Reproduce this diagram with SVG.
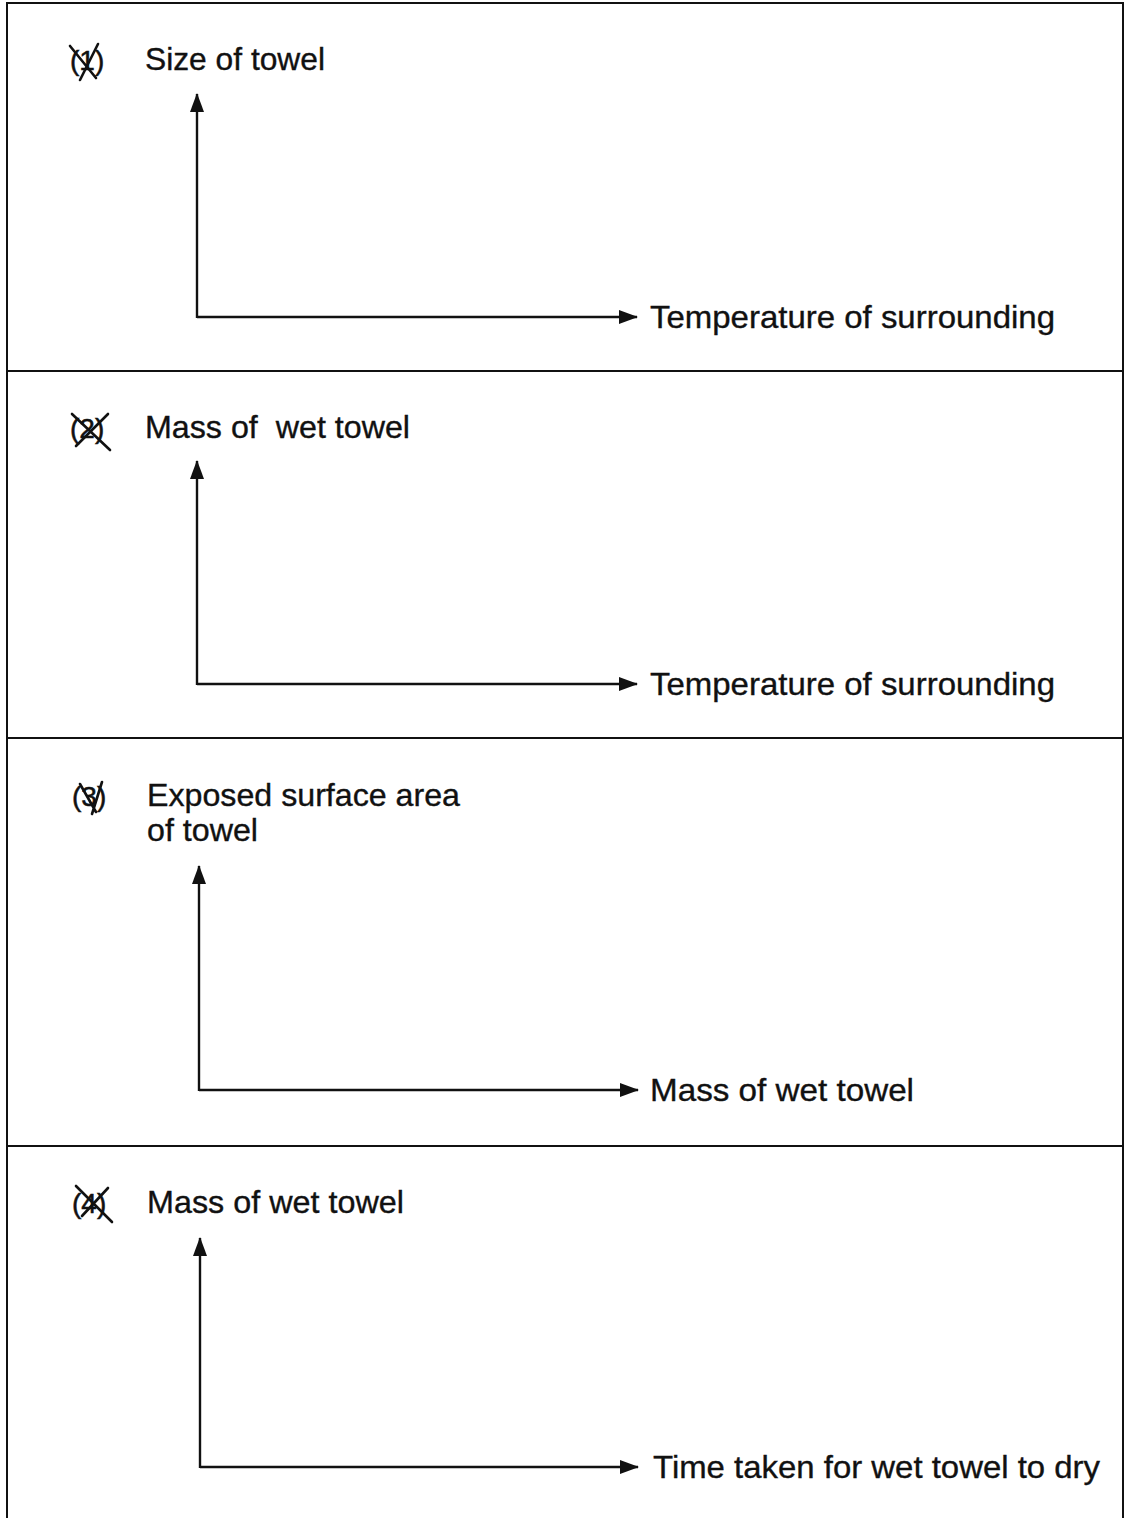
<svg xmlns="http://www.w3.org/2000/svg" width="1128" height="1518" viewBox="0 0 1128 1518">
<style>
.lbl{font-family:"Liberation Sans",Arial,sans-serif;font-size:32px;fill:#111;stroke:#111;stroke-width:0.35}
.num{font-family:"Liberation Sans",Arial,sans-serif;font-size:28px;fill:#111;stroke:#111;stroke-width:0.5}
.ax{stroke:#111;stroke-width:2.4;fill:none}
.frame{stroke:#111;stroke-width:2;fill:none}
.cross{stroke:#111;stroke-width:2.6;fill:none;stroke-linecap:round}
</style>
<defs>
<marker id="ah" viewBox="0 0 19 14" refX="18" refY="7" markerWidth="19" markerHeight="14" markerUnits="userSpaceOnUse" orient="auto">
<path d="M0,0 L19,7 L0,14 Z" fill="#111"/>
</marker>
</defs>
<rect width="1128" height="1518" fill="#fff"/>
<g id="frame">
<path class="frame" d="M7,1518 L7,3 L1123,3 L1123,1518"/>
<line class="frame" x1="7" y1="371" x2="1123" y2="371"/>
<line class="frame" x1="7" y1="738" x2="1123" y2="738"/>
<line class="frame" x1="7" y1="1146" x2="1123" y2="1146"/>
</g>
<g id="panel1">
<text class="num" x="70" y="70">(1)</text>
<path class="cross" d="M70,46 L96,78 M98,44 L80,80"/>
<text class="lbl" x="145" y="70" textLength="180" lengthAdjust="spacingAndGlyphs">Size of towel</text>
<text class="lbl" x="650" y="328" textLength="405" lengthAdjust="spacingAndGlyphs">Temperature of surrounding</text>
</g>
<g id="panel2">
<text class="num" x="70" y="438">(2)</text>
<path class="cross" d="M72,414 L110,450 M108,414 L76,446"/>
<text class="lbl" x="145" y="438" xml:space="preserve" textLength="265" lengthAdjust="spacingAndGlyphs">Mass of  wet towel</text>
<text class="lbl" x="650" y="695" textLength="405" lengthAdjust="spacingAndGlyphs">Temperature of surrounding</text>
</g>
<g id="panel3">
<text class="num" x="72" y="806">(3)</text>
<path class="cross" d="M80,784 L96,812 M102,782 L92,814"/>
<text class="lbl" x="147" y="806" textLength="313" lengthAdjust="spacingAndGlyphs">Exposed surface area</text>
<text class="lbl" x="147" y="841" textLength="111" lengthAdjust="spacingAndGlyphs">of towel</text>
<text class="lbl" x="650" y="1101" textLength="264" lengthAdjust="spacingAndGlyphs">Mass of wet towel</text>
</g>
<g id="panel4">
<text class="num" x="72" y="1213">(4)</text>
<path class="cross" d="M76,1186 L112,1222 M108,1188 L82,1216"/>
<text class="lbl" x="147" y="1213" textLength="257" lengthAdjust="spacingAndGlyphs">Mass of wet towel</text>
<text class="lbl" x="653" y="1478" textLength="447" lengthAdjust="spacingAndGlyphs">Time taken for wet towel to dry</text>
</g>
<g id="connectors">
<path class="ax" d="M197,317 L637,317" marker-end="url(#ah)"/>
<line class="ax" x1="197" y1="318" x2="197" y2="94" marker-end="url(#ah)"/>
<path class="ax" d="M197,684 L637,684" marker-end="url(#ah)"/>
<line class="ax" x1="197" y1="685" x2="197" y2="461" marker-end="url(#ah)"/>
<path class="ax" d="M199,1090 L638,1090" marker-end="url(#ah)"/>
<line class="ax" x1="199" y1="1091" x2="199" y2="866" marker-end="url(#ah)"/>
<path class="ax" d="M200,1467 L638,1467" marker-end="url(#ah)"/>
<line class="ax" x1="200" y1="1468" x2="200" y2="1238" marker-end="url(#ah)"/>
</g>
</svg>
